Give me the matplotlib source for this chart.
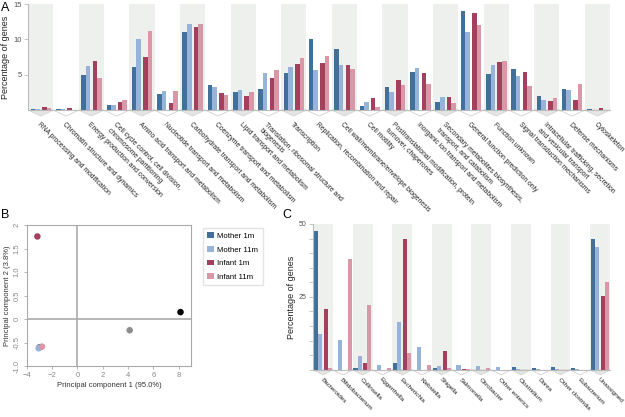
import matplotlib
matplotlib.use('Agg')
import matplotlib.pyplot as plt
import matplotlib.transforms as mtransforms
from matplotlib.patches import Polygon, Patch
import numpy as np

plt.rcParams['font.family'] = ['Liberation Sans', 'DejaVu Sans']

# Colours for the four samples
series = ['Mother 1m', 'Mother 11m', 'Infant 1m', 'Infant 11m']
colors = ['#41709b', '#98b3d9', '#a3405e', '#d998a8']
shade = '#eef0ee'

# Panel A: COG functional categories (% of genes)
cog_labels = [
    'RNA processing and modification',
    'Chromatin structure and dynamics',
    'Energy production and conversion',
    'Cell cycle control, cell division,\nchromosome partitioning',
    'Amino acid transport and metabolism',
    'Nucleotide transport and metabolism',
    'Carbohydrate transport and metabolism',
    'Coenzyme transport and metabolism',
    'Lipid transport and metabolism',
    'Translation, ribosomal structure and\nbiogenesis',
    'Transcription',
    'Replication, recombination and repair',
    'Cell wall/membrane/envelope biogenesis',
    'Cell motility',
    'Posttranslational modification, protein\nturnover, chaperones',
    'Inorganic ion transport and metabolism',
    'Secondary metabolites biosynthesis,\ntransport, and catabolism',
    'General function prediction only',
    'Function unknown',
    'Signal transduction mechanisms',
    'Intracellular trafficking, secretion\nand vesicular transport',
    'Defense mechanisms',
    'Cytoskeleton',
]
cog_mother_1m = [0.2, 0.2, 4.9, 0.7, 6.15, 2.3, 11.1, 3.6, 2.6, 3.05, 5.2, 10.05,
                 8.65, 0.55, 3.25, 5.35, 1.1, 14.1, 5.15, 5.8, 2.05, 3.05, 0.1]
cog_mother_11m = [0.15, 0.2, 6.2, 0.75, 10.0, 2.7, 12.25, 3.25, 2.8, 5.2, 6.05, 5.65,
                  6.35, 1.1, 2.55, 5.9, 1.9, 11.0, 6.45, 4.8, 1.45, 2.8, 0.05]
cog_infant_1m = [0.4, 0.3, 6.9, 1.2, 7.55, 0.95, 11.7, 2.4, 1.95, 4.55, 6.5, 6.6,
                 6.45, 1.75, 4.2, 5.3, 1.8, 13.75, 6.75, 5.35, 1.25, 1.45, 0.35]
cog_infant_11m = [0.35, 0.05, 4.5, 1.4, 11.2, 2.7, 12.25, 2.1, 2.5, 5.7, 7.4, 7.6,
                  5.8, 0.45, 3.5, 3.65, 0.95, 12.0, 6.95, 3.4, 1.65, 3.65, 0.0]

# Panel B: PCA scores
pca_x = [-3.0, -3.07, -3.17, -2.8]
pca_y = [-0.6, -0.62, 1.76, -0.585]
extra_x = [4.13, 8.15]
extra_y = [-0.236, 0.15]
extra_colors = ['#8c8c8c', '#000000']

# Panel C: genera (% of genes)
genus_labels = ['Bacteroides', 'Bifidobacterium', 'Collinsella', 'Eggerthella',
                'Escherichia', 'Klebsiella', 'Shigella', 'Salmonella', 'Citrobacter',
                'Other enterics', 'Clostridium', 'Dorea', 'Other clostridia',
                'Eubacterium', 'Unassigned']
gen_mother_1m = [47.5, 0.0, 0.6, 0.1, 2.4, 0.0, 0.7, 0.1, 0.1, 0.05, 0.9, 0.8, 0.9, 0.7, 44.9]
gen_mother_11m = [12.2, 10.3, 4.7, 1.7, 16.3, 7.9, 1.25, 1.7, 1.4, 1.15, 0.2, 0.2, 0.3, 0.2, 42.0]
gen_infant_1m = [20.7, 0.0, 2.3, 0.05, 44.9, 0.0, 6.5, 0.45, 0.05, 0.1, 0.1, 0.0, 0.1, 0.0, 25.2]
gen_infant_11m = [0.6, 38.0, 22.1, 0.7, 5.8, 1.7, 0.6, 0.35, 0.6, 0.1, 0.1, 0.0, 0.1, 0.0, 30.0]


def grouped_bars(ax, labels, data, offsets, width, chevron_px, fontsize):
    n = len(labels)
    x = np.arange(n)
    for i in range(n):
        if i % 2 == 0:
            ax.axvspan(i - 0.5, i + 0.5, color=shade, lw=0, zorder=0)
    for vals, off, c in zip(data, offsets, colors):
        ax.bar(x + off, vals, width, color=c, zorder=2, lw=0)
    ax.set_xlim(-0.5, n - 0.5)
    # chevrons under each group
    trans = mtransforms.blended_transform_factory(ax.transData, ax.transAxes)
    h = ax.get_window_extent().height
    d = chevron_px / h
    for i in range(n):
        pts = [(i - 0.5, 0), (i, -d), (i + 0.5, 0)]
        if i % 2 == 0:
            poly = Polygon(pts, closed=True, facecolor='#e4e6e4', edgecolor='#cfd1cf',
                           lw=0.5, transform=trans, clip_on=False)
        else:
            poly = Polygon(pts, closed=False, facecolor='none', edgecolor='#cfd1cf',
                           lw=0.6, transform=trans, clip_on=False)
        ax.add_patch(poly)
    ax.set_xticks(x)
    ax.set_xticklabels(labels, fontsize=fontsize, color='#222222')
    plt.setp(ax.get_xticklabels(), rotation=-45, ha='left', va='top',
             rotation_mode='anchor')
    ax.tick_params(axis='x', length=0, pad=chevron_px + 2)
    for s in ['top', 'right']:
        ax.spines[s].set_visible(False)
    ax.spines['left'].set_color('#bbbbbb')
    ax.spines['bottom'].set_color('#bbbbbb')
    ax.tick_params(axis='y', colors='#bbbbbb', labelcolor='#555555', length=3,
                   width=0.6, pad=1.5)


fig = plt.figure(figsize=(6.25, 4.17), dpi=100)

# ---- Panel A
axA = fig.add_axes([0.045, 0.736, 0.931, 0.254])
axA.set_ylim(0, 15)
grouped_bars(axA, cog_labels,
             [cog_mother_1m, cog_mother_11m, cog_infant_1m, cog_infant_11m],
             [-0.31, -0.13, 0.14, 0.32], 0.18, 6, 4.9)
axA.set_yticks([5, 10, 15])
axA.tick_params(axis='y', labelsize=5.5)
axA.set_ylabel('Percentage of genes', fontsize=6.5, color='#222222')
axA.yaxis.set_label_coords(-0.032, 0.5)
fig.text(0.002, 0.995, 'A', fontsize=9, va='top')

# ---- Panel B
axB = fig.add_axes([0.043, 0.122, 0.263, 0.338])
axB.axvline(0, color='#aaaaaa', lw=1.2, zorder=1)
axB.axhline(0, color='#aaaaaa', lw=1.2, zorder=1)
axB.scatter(pca_x, pca_y, c=colors, s=22, zorder=3, lw=0)
axB.scatter(extra_x, extra_y, c=extra_colors, s=22, zorder=3, lw=0)
axB.set_xlim(-4, 9)
axB.set_ylim(-1.0, 2.0)
axB.set_xticks([-4, -2, 0, 2, 4, 6, 8])
axB.set_yticks([-1.0, -0.5, 0, 0.5, 1.0, 1.5, 2])
axB.set_yticklabels(['-1.0', '-0.5', '0', '0.5', '1.0', '1.5', '2'], rotation=90,
                    va='center')
for s in axB.spines.values():
    s.set_color('#aaaaaa')
axB.tick_params(colors='#aaaaaa', labelcolor='#888888', labelsize=5.5, length=2.5,
                width=0.6, pad=2)
axB.set_xlabel('Principal component 1 (95.0%)', fontsize=5.5, color='#333333', labelpad=2)
axB.set_ylabel('Principal component 2 (3.8%)', fontsize=5.5, color='#333333', labelpad=2)
fig.text(0.002, 0.485, 'B', fontsize=9, va='center')

handles = [Patch(facecolor=c, label=l) for c, l in zip(colors, series)]
fig.legend(handles=handles, loc='upper left', bbox_to_anchor=(0.318, 0.463),
           fontsize=5.6, frameon=True, edgecolor='#dddddd', fancybox=False,
           handlelength=0.8, handleheight=0.8, handletextpad=0.5,
           labelspacing=0.75, borderpad=0.6)

# ---- Panel C
axC = fig.add_axes([0.501, 0.113, 0.475, 0.350])
axC.set_ylim(0, 50)
grouped_bars(axC, genus_labels,
             [gen_mother_1m, gen_mother_11m, gen_infant_1m, gen_infant_11m],
             [-0.36, -0.155, 0.14, 0.345], 0.205, 5, 4.6)
axC.tick_params(axis='x', pad=5)
axC.set_yticks([25, 50])
axC.set_yticks(np.arange(0, 51, 5), minor=True)
axC.tick_params(axis='y', which='both', colors='#bbbbbb', labelcolor='#555555',
                labelsize=5, length=3, width=0.6, pad=1.5)
axC.set_ylabel('Percentage of genes', fontsize=6.5, color='#222222')
axC.yaxis.set_label_coords(-0.058, 0.5)
fig.text(0.452, 0.485, 'C', fontsize=9, va='center')

fig.savefig('out.png', dpi=100)
